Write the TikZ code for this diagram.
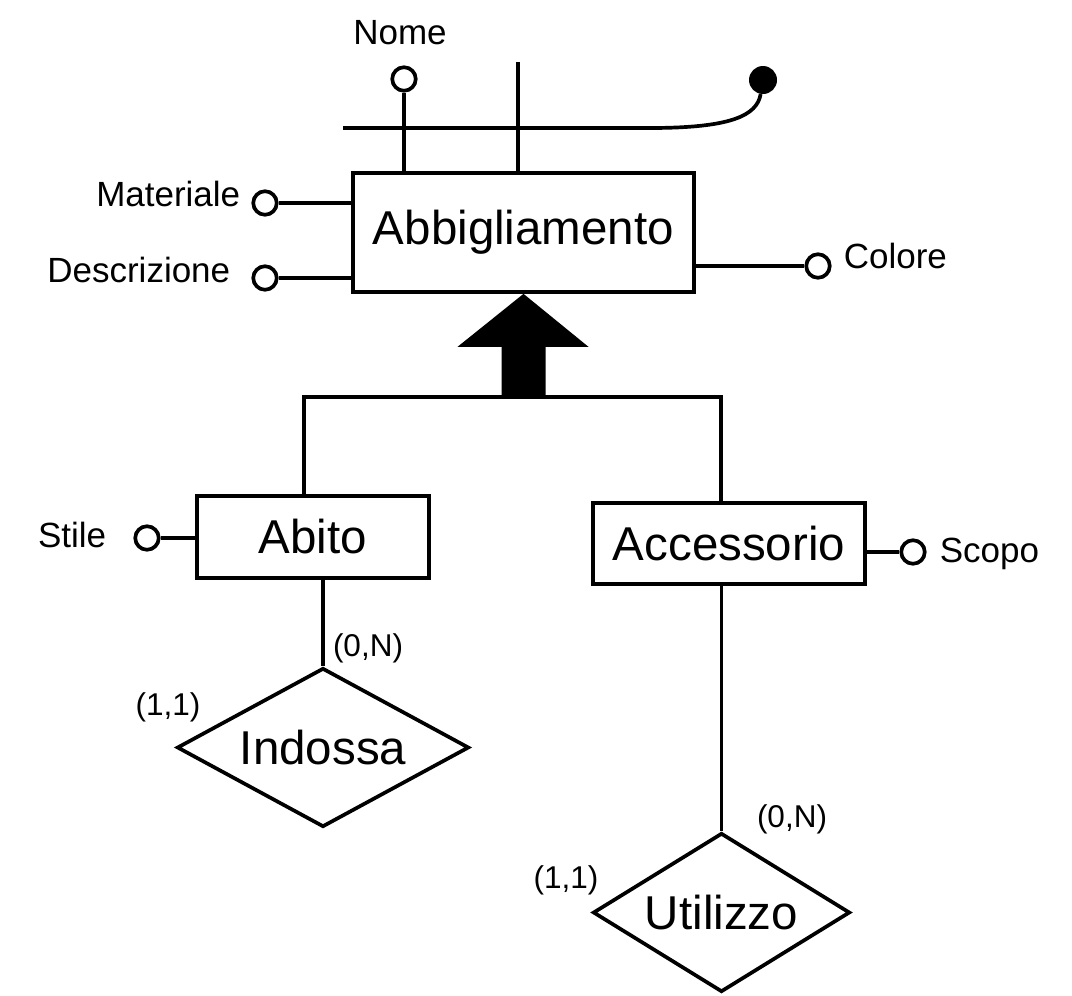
\documentclass[tikz,border=0pt]{standalone}
\usepackage{fontspec}
\setmainfont{Liberation Sans}
\usetikzlibrary{positioning, calc, shapes.geometric}
\tikzset{
  ent/.style={draw, line width=3.7pt, inner sep=0pt, font=\fontsize{47.5}{57}\selectfont},
  rel/.style={draw, diamond, aspect=2, line width=3.7pt, inner sep=0pt, font=\fontsize{47.5}{57}\selectfont},
  attr/.style={draw, circle, fill=white, line width=3.7pt, minimum size=23.5pt, inner sep=0pt},
  keydot/.style={circle, fill=black, minimum size=28pt, inner sep=0pt},
  lbl/.style={inner sep=0pt, font=\fontsize{35}{42}\selectfont},
  card/.style={inner sep=0pt, font=\fontsize{31.5}{38}\selectfont},
  conn/.style={line width=3.7pt},
}
\begin{document}
\begin{tikzpicture}[x=1pt, y=-1pt]
    \useasboundingbox (0,0) rectangle (1072,996);
    \node[ent, minimum width=341pt, minimum height=119pt] (abb) at (523.5,232.5) {Abbigliamento};
    \node[ent, minimum width=232pt, minimum height=82pt] (abito) at (313,537) {Abito};
    \node[ent, minimum width=272pt, minimum height=81pt] (acc) at (729,543.5) {Accessorio};
    \node[rel, minimum width=292pt, minimum height=159pt] (indossa) at (323,747.5) {Indossa};
    \node[rel, minimum width=257pt, minimum height=159pt] (utilizzo) at (721.5,912.5) {Utilizzo};
    \node[attr] (nome) at (404,79) {};
    \node[attr] (mat) at (265,203) {};
    \node[attr] (descr) at (265,278) {};
    \node[attr] (col) at (818,266) {};
    \node[attr] (stile) at (147,538) {};
    \node[attr] (scopo) at (913,552) {};
    \node[keydot] (kd) at (763,80) {};
    \node[lbl, above=20pt of nome, xshift=-4pt] (nomel) {Nome};
    \node[lbl, left=11pt of mat, yshift=9pt] (matl) {Materiale};
    \node[lbl, left=21pt of descr, yshift=8.5pt] (descrl) {Descrizione};
    \node[lbl, right=12pt of col, yshift=10pt] (coll) {Colore};
    \node[lbl, left=27pt of stile, yshift=3.5pt] (stilel) {Stile};
    \node[lbl, right=13pt of scopo, yshift=-1.7pt] (scopol) {Scopo};
    \node[card] (c1) at (368,648) {(0,N)};
    \node[card] (c2) at (168,707.5) {(1,1)};
    \node[card] (c3) at (792,819) {(0,N)};
    \node[card] (c4) at (566,880) {(1,1)};
    \coordinate (k0) at (343,128);
    \coordinate (k1) at (650,128);
    \coordinate (kt) at (518,62);
    \coordinate (gl) at (304,397);
    \coordinate (gr) at (721,397);
    \draw[conn] (k0) -- (k1) .. controls (730,128) and (757,116) .. (kd);
    \draw[conn] (abb.north -| nome) -- (nome);
    \draw[conn] (abb.north -| kt) -- (kt);
    \foreach \x in {mat,descr} { \draw[conn] (\x) -- (abb.west |- \x); }
    \draw[conn] (abb.east |- col) -- (col);
    \draw[conn] (stile) -- (abito.west |- stile);
    \draw[conn] (acc.east |- scopo) -- (scopo);
    \draw[conn] (abito.north -| gl) -- (gl) -- (gr) -- (acc.north -| gr);
    \fill (abb.south) -- ++(65,53) -- ++(-43,0) -- ++(0,50) -- ++(-44,0) -- ++(0,-50) -- ++(-44,0) -- cycle;
    \draw[conn] (indossa.north |- abito.south) -- (indossa);
    \draw[conn] (utilizzo.north |- acc.south) -- (utilizzo);
\end{tikzpicture}
\end{document}
